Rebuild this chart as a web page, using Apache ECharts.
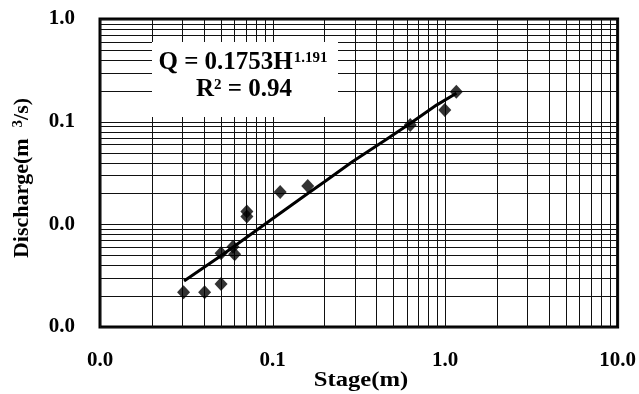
<!DOCTYPE html>
<html>
<head>
<meta charset="utf-8">
<script src="https://cdn.jsdelivr.net/npm/echarts@6/dist/echarts.min.js"></script>
<style>
  html, body { margin: 0; padding: 0; background: #fff; }
  #chart { width: 639px; height: 394px; }
</style>
</head>
<body>
<div id="chart"></div>
<script>
// measured points (stage in m, discharge in m3/s)
const stage = [0.0305, 0.0404, 0.0503, 0.0503, 0.0590, 0.0603, 0.0710, 0.0710, 0.1107, 0.160, 0.628, 0.996, 1.162];
const discharge = [0.00218, 0.00218, 0.00262, 0.00522, 0.00605, 0.00510, 0.0133, 0.0119, 0.0206, 0.0236, 0.0927, 0.130, 0.196];

// power trend line
const trendStage = [0.0307, 0.051, 0.0945, 0.160, 0.200, 0.290, 0.451, 0.627, 0.892, 1.163];
const trendQ = [0.00281, 0.00502, 0.0106, 0.0200, 0.0260, 0.0407, 0.0662, 0.0962, 0.145, 0.189];

// log grid (1..9 in each decade)
const xDecades = [0.01, 0.1, 1];
const yDecades = [0.001, 0.01, 0.1];
const gridMults = [1, 2, 3, 4, 5, 6, 7, 8, 9];
const xGridLines = xDecades.flatMap(d => gridMults.map(m => +(d * m).toPrecision(3))).concat([10]);
const yGridLines = yDecades.flatMap(d => gridMults.map(m => +(d * m).toPrecision(3))).concat([1]);

const FONT = "Liberation Serif";

const chart = echarts.init(document.getElementById("chart"), null, { renderer: "canvas" });

function vLine(params, api) {
  const cs = params.coordSys;
  const x = Math.round(api.coord([api.value(0), 0.01])[0]) + 0.5;
  return {
    type: "line",
    shape: { x1: x, y1: cs.y, x2: x, y2: cs.y + cs.height },
    style: { stroke: "#111", lineWidth: 1 },
    silent: true
  };
}
function hLine(params, api) {
  const cs = params.coordSys;
  const y = Math.round(api.coord([0.1, api.value(1)])[1]) + 0.5;
  return {
    type: "line",
    shape: { x1: cs.x, y1: y, x2: cs.x + cs.width, y2: y },
    style: { stroke: "#111", lineWidth: 1 },
    silent: true
  };
}

chart.setOption({
  animation: false,
  grid: {
    left: 100,
    right: 16,
    top: 19,
    bottom: 67,
    show: true,
    borderColor: "#000",
    borderWidth: 3,
    backgroundColor: "#fff"
  },
  xAxis: {
    type: "log",
    logBase: 10,
    min: 0.01,
    max: 10,
    axisLine: { show: false },
    axisTick: { show: false },
    splitLine: { show: false },
    axisLabel: {
      margin: 23,
      color: "#000",
      fontFamily: FONT,
      fontWeight: "bold",
      fontSize: 21,
      formatter: v => v.toFixed(1)
    }
  },
  yAxis: {
    type: "log",
    logBase: 10,
    min: 0.001,
    max: 1,
    axisLine: { show: false },
    axisTick: { show: false },
    splitLine: { show: false },
    axisLabel: {
      margin: 25,
      color: "#000",
      fontFamily: FONT,
      fontWeight: "bold",
      fontSize: 21,
      formatter: v => v.toFixed(1)
    }
  },
  graphic: [
    {
      type: "rect",
      z: 10,
      shape: { x: 152, y: 42, width: 186, height: 75 },
      style: { fill: "#fff" }
    },
    {
      type: "text",
      z: 11,
      x: 243,
      y: 63,
      style: {
        text: "{b|Q = 0.1753H}{s|1.191}",
        align: "center",
        verticalAlign: "middle",
        rich: {
          b: { fontFamily: FONT, fontWeight: "bold", fontSize: 25, fill: "#000" },
          s: { fontFamily: FONT, fontWeight: "bold", fontSize: 15, fill: "#000", verticalAlign: "top", padding: [0, 0, 8, 1] }
        }
      }
    },
    {
      type: "text",
      z: 11,
      x: 244,
      y: 90,
      style: {
        text: "{b|R}{s|2}{b| = 0.94}",
        align: "center",
        verticalAlign: "middle",
        rich: {
          b: { fontFamily: FONT, fontWeight: "bold", fontSize: 25, fill: "#000" },
          s: { fontFamily: FONT, fontWeight: "bold", fontSize: 15, fill: "#000", verticalAlign: "top", padding: [0, 0, 8, 0] }
        }
      }
    },
    {
      type: "text",
      z: 11,
      x: 361,
      y: 380,
      scaleX: 1.12,
      style: {
        text: "Stage(m)",
        fontFamily: FONT,
        fontWeight: "bold",
        fontSize: 22,
        fill: "#000",
        align: "center",
        verticalAlign: "middle"
      }
    },
    {
      type: "text",
      z: 11,
      x: 22,
      y: 178,
      rotation: Math.PI / 2,
      style: {
        text: "{a|Discharge(m  }{s|3}{a|/s)}",
        align: "center",
        verticalAlign: "middle",
        rich: {
          a: { fontFamily: FONT, fontWeight: "bold", fontSize: 22, fill: "#000" },
          s: { fontFamily: FONT, fontWeight: "bold", fontSize: 15, fill: "#000", verticalAlign: "top", padding: [0, 0, 8, 0] }
        }
      }
    }
  ],
  series: [
    {
      type: "custom",
      z: 1,
      silent: true,
      renderItem: vLine,
      data: xGridLines.map(v => [v, 0.01])
    },
    {
      type: "custom",
      z: 1,
      silent: true,
      renderItem: hLine,
      data: yGridLines.map(v => [0.1, v])
    },
    {
      type: "line",
      z: 3,
      data: trendStage.map((s, i) => [s, trendQ[i]]),
      showSymbol: false,
      smooth: false,
      lineStyle: { color: "#000", width: 3 }
    },
    {
      type: "scatter",
      z: 4,
      symbol: "diamond",
      symbolSize: [13, 14],
      itemStyle: { color: "#000" },
      data: stage.map((s, i) => [s, discharge[i]])
    }
  ]
});
</script>
</body>
</html>
